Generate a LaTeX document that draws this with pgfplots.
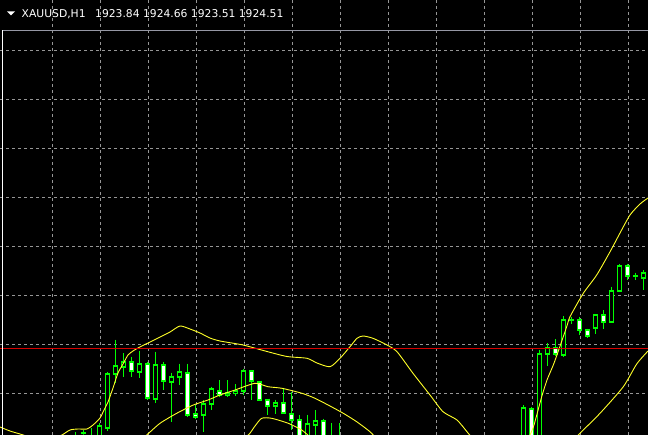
\documentclass[border=0pt]{standalone}
\usepackage{pgfplots}
\usepackage{pgfplotstable}
\usepackage{fontspec}
\setmainfont{DejaVu Sans}
\pgfplotsset{compat=1.18}

\definecolor{mtlime}{RGB}{0,255,0}
\definecolor{mtgrid}{RGB}{150,150,150}
\definecolor{mtband}{RGB}{255,255,40}
\definecolor{mtred}{RGB}{215,0,0}
\definecolor{mtsep}{RGB}{150,152,165}

% candles in screen coordinates of the chart window (x right, y down)
% x, open, high, low, close
\pgfplotstableread{
x   o     h     l     c
75  442   432   447   438
83  433   430   437   433
91  440   428   445   437
99  440   423   445   426
107 427.5 372   430.5 374
115 374   339.5 383   366
123 366.5 353   377   362
139 371.5 350.5 377.5 364
155 399   351.5 403   365
171 381.5 372.5 421.5 376.5
179 376.5 363.5 385   372
203 415   400   432   404
211 404   386.5 410   389
227 394.5 380   396.5 392.5
235 393   384   396   390.5
243 390.5 368.5 395   371
275 406   399.5 414   402.5
307 440   414.5 445   423.5
315 424.5 410   436   421
331 445   423   450   440
339 445   423   450   440
523 445   405   450   407.5
539 440   349.5 445   353.5
547 353.5 343   366   347.5
563 355   316   357   320
571 320   316.5 324   320
595 327.5 314   333.5 315
611 321.5 286.5 323   290.5
619 290.5 264   292   266
635 276   272.5 279.5 276
643 277.5 270   289.5 272.5
}\bull
\pgfplotstableread{
x   o     h     l     c
131 362   356.5 376.5 371
147 364   362   400   398
163 365   361.5 390   381
187 372.5 363.5 416.5 415
195 414   405   419   417
219 390.5 380   397   394.5
251 371   371   399.5 381
259 381.5 381.5 400   400
267 399.5 399.5 415   406
283 402.5 387.5 414   412.5
291 413.5 391.5 430   420
299 420   415   445   440
323 421   418.5 445   440
531 409   406.5 445   440
555 347.5 339   356   353.5
579 319.5 316.5 335   330
587 330   328.5 337.5 336
603 315   310   328.5 321.5
627 266   264   280   276
}\bear

\pgfplotsset{
  wick/.style={mtlime, line width=1bp, forget plot, -,
    quiver={u=0, v={\thisrow{l}-\thisrow{h}}}},
  outline/.style={mtlime, line width=5bp, forget plot, -,
    quiver={u=0, v={abs(\thisrow{o}-\thisrow{c})+2}}},
  inside/.style={#1, line width=3bp, forget plot, -,
    quiver={u=0, v={max(abs(\thisrow{o}-\thisrow{c})-2,0.01)}}},
}

\begin{document}
\begin{tikzpicture}
\begin{axis}[
  name=chart,
  width=648bp, height=435bp, scale only axis,
  xmin=0, xmax=648, ymin=0, ymax=435, y dir=reverse,
  axis background/.style={fill=black},
  axis line style={draw=none},
  xtick={52.5,100.5,...,628.5}, ytick={50.5,99.5,...,393.5},
  xticklabels={}, yticklabels={},
  major tick length=0pt,
  grid=major,
  grid style={draw=mtgrid, line width=1bp, dash pattern=on 3bp off 3bp},
]
% wicks (x shifted half a pixel onto the pixel centre)
\addplot[wick] table[x expr=\thisrow{x}+0.5, y=h] {\bull};
\addplot[wick] table[x expr=\thisrow{x}+0.5, y=h] {\bear};
% bodies: green outline, black (up) or white (down) inside
\addplot[outline] table[x expr=\thisrow{x}+0.5, y expr={min(\thisrow{o},\thisrow{c})-1}] {\bull};
\addplot[outline] table[x expr=\thisrow{x}+0.5, y expr={min(\thisrow{o},\thisrow{c})-1}] {\bear};
\addplot[inside=black] table[x expr=\thisrow{x}+0.5, y expr={min(\thisrow{o},\thisrow{c})+1}] {\bull};
\addplot[inside=white] table[x expr=\thisrow{x}+0.5, y expr={min(\thisrow{o},\thisrow{c})+1}] {\bear};

% Bollinger bands
\addplot[mtband, line width=0.9bp, smooth, tension=0.4] coordinates {
  (0,427) (10,431) (20,434) (30,437) (45,439) (55,437) (62,435) (70,430)
  (78,429) (87,429) (93,425) (100,418) (104,410) (108,402) (113,388)
  (118,373) (123,364) (128,355) (133,351) (138,348) (148,343) (160,337)
  (170,332) (180,326) (190,329) (200,333) (210,338) (220,341) (243,345)
  (267,351.5) (287,356.5) (307,358.3) (317,363) (330,366.7) (340,358.3)
  (350,346.7) (357,338.3) (363,336) (373,338.3) (387,345) (397,351.7)
  (413,373.3) (430,395) (443,411.7) (457,420) (468,433) (474,440)
};
\addplot[mtband, line width=0.9bp, smooth, tension=0.4] coordinates {
  (525,445) (530,435) (534,425) (541.7,396.7) (547,380) (553.3,365)
  (558,352) (566.7,326.7) (570,316.7) (583.3,293.3) (596.7,275)
  (611,250) (620,233) (630,215) (640,204) (648,198)
};
\addplot[mtband, line width=0.9bp, smooth, tension=0.4] coordinates {
  (140,440) (146.7,435) (160,423.3) (176.7,413.3) (193.3,405) (208,400)
  (220,395) (235,390) (255,383.3) (268,386.7) (282,388.3) (302,393.3)
  (315,398.3) (330,406) (343.3,413.3) (356.7,421.7) (370,431.7) (376,438)
};
\addplot[mtband, line width=0.9bp, smooth, tension=0.4] coordinates {
  (575,440) (578.3,435) (600,413.3) (623.3,386.7) (636.7,364) (648,351)
};
\addplot[mtband, line width=0.9bp, smooth, tension=0.4] coordinates {
  (236,442) (248.3,435) (255,426) (261.7,418.3) (271.7,418.3)
  (288.3,423.3) (301.7,430) (310,437)
};

% horizontal line and window decorations
\addplot[mtred, line width=1bp] coordinates {(0,348.5) (648,348.5)};
\addplot[mtsep, line width=1bp] coordinates {(2.5,30.5) (648,30.5)};
\addplot[white, line width=1bp] coordinates {(2.5,30.5) (2.5,435)};

\fill[white] (axis cs:7,11.5) -- (axis cs:15,11.5) -- (axis cs:11,15.5) -- cycle;
\node[anchor=base west, inner sep=0pt, text=white, font=\fontsize{10.8}{12}\selectfont]
  at (axis cs:21.5,17.3) {XAUUSD,H1};
\node[anchor=base west, inner sep=0pt, text=white, font=\fontsize{10.8}{12}\selectfont]
  at (axis cs:95,17.3) {1923.84 1924.66 1923.51 1924.51};
\end{axis}
\pgfresetboundingbox
\path[use as bounding box] (chart.south west) rectangle (chart.north east);
\end{tikzpicture}
\end{document}
